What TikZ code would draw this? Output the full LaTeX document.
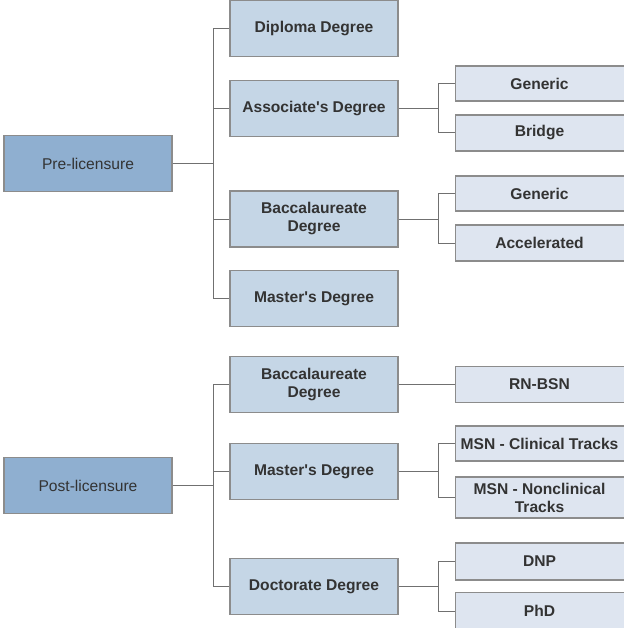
\documentclass[tikz,border=0pt]{standalone}
\usepackage{fontspec}
\setmainfont{Liberation Sans}
\definecolor{rootfill}{HTML}{8FAFD0}
\definecolor{midfill}{HTML}{C5D6E6}
\definecolor{leaffill}{HTML}{DEE5F0}
\definecolor{boxline}{HTML}{8C8C8C}
\definecolor{conline}{HTML}{707070}
\definecolor{txt}{HTML}{333333}
\tikzset{
  base/.style={draw=boxline, line width=1.2pt, text=txt, align=center, inner sep=2pt,
    minimum width=168pt, font=\fontsize{15.6}{18}\selectfont},
  rootbox/.style={base, fill=rootfill, minimum height=56pt},
  midbox/.style={base, fill=midfill, minimum height=56pt, font=\fontsize{15.6}{18}\selectfont\bfseries},
  leafbox/.style={base, fill=leaffill, minimum height=36pt, minimum width=171pt, font=\fontsize{15.6}{18}\selectfont\bfseries},
  con/.style={draw=conline, line width=1pt}
}
\begin{document}
\begin{tikzpicture}[x=1pt,y=1pt]
\useasboundingbox (0,0) rectangle (623,-628);
% roots
\node[rootbox] (pre) at (88,-163.5) {Pre-licensure};
\node[rootbox] (post) at (88,-485.5) {Post-licensure};
% middle
\node[midbox] (dip) at (314,-28.5) {Diploma Degree};
\node[midbox] (ass) at (314,-108.5) {Associate\textquotesingle s Degree};
\node[midbox] (bac1) at (314,-219) {Baccalaureate\\Degree};
\node[midbox] (mas1) at (314,-298.7) {Master\textquotesingle s Degree};
\node[midbox] (bac2) at (314,-384.5) {Baccalaureate\\Degree};
\node[midbox] (mas2) at (314,-471.5) {Master\textquotesingle s Degree};
\node[midbox] (doc) at (314,-586.3) {Doctorate Degree};
% leaves (right edges run past the page, as in the reference)
\node[leafbox, minimum height=35pt] (gen1) at (541,-83.5) {\hspace*{-3pt}Generic};
\node[leafbox] (bri) at (541,-133) {\hspace*{-3pt}Bridge};
\node[leafbox, minimum height=35pt] (gen2) at (541,-193.5) {\hspace*{-3pt}Generic};
\node[leafbox] (acc) at (541,-243) {\hspace*{-3pt}Accelerated};
\node[leafbox] (rn) at (541,-384.5) {\hspace*{-3pt}RN-BSN};
\node[leafbox, minimum height=35pt] (msc) at (541,-443.5) {\hspace*{-3pt}MSN - Clinical Tracks};
\node[leafbox, minimum height=41pt] (msn) at (541,-497.5) {\hspace*{-3pt}MSN - Nonclinical\\\hspace*{-3pt}Tracks};
\node[leafbox, minimum height=37pt] (dnp) at (541,-561.5) {\hspace*{-3pt}DNP};
\node[leafbox, minimum height=37pt] (phd) at (541,-611) {\hspace*{-3pt}PhD};
% trunk coordinates
\coordinate (t) at (213,0);
\coordinate (b) at (438,0);
% pre-licensure tree
\draw[con] (pre.east) -- (pre.east -| t);
\draw[con] (dip.west) -| (t |- mas1.west) -- (mas1.west);
\draw[con] (ass.west) -- (ass.west -| t);
\draw[con] (bac1.west) -- (bac1.west -| t);
\draw[con] (ass.east) -- (ass.east -| b);
\draw[con] (gen1.west) -| (b |- bri.west) -- (bri.west);
\draw[con] (bac1.east) -- (bac1.east -| b);
\draw[con] (gen2.west) -| (b |- acc.west) -- (acc.west);
% post-licensure tree
\draw[con] (post.east) -- (post.east -| t);
\draw[con] (bac2.west) -| (t |- doc.west) -- (doc.west);
\draw[con] (mas2.west) -- (mas2.west -| t);
\draw[con] (bac2.east) -- (rn.west);
\draw[con] (mas2.east) -- (mas2.east -| b);
\draw[con] (msc.west) -| (b |- msn.west) -- (msn.west);
\draw[con] (doc.east) -- (doc.east -| b);
\draw[con] (dnp.west) -| (b |- phd.west) -- (phd.west);
\end{tikzpicture}
\end{document}
